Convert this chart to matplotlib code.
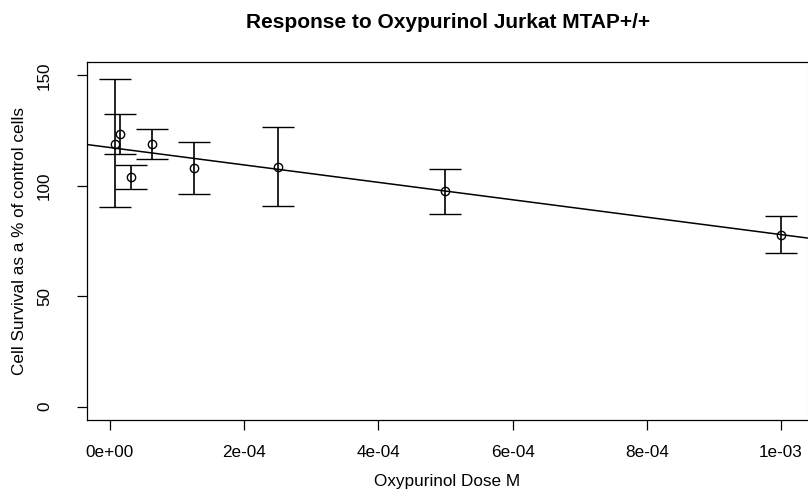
import numpy as np
import matplotlib
matplotlib.use("Agg")
from matplotlib import pyplot as plt

plt.rcParams["font.family"] = ["Liberation Sans", "DejaVu Sans"]

# dose (M), mean survival and error-bar ends
dose = [7.8125e-6, 1.5625e-5, 3.125e-5, 6.25e-5, 1.25e-4, 2.5e-4, 5e-4, 1e-3]
survival = [119.0, 123.4, 104.1, 118.8, 108.0, 108.6, 97.6, 77.9]
upper = [148.1, 132.5, 109.2, 125.8, 119.7, 126.4, 107.4, 86.5]
lower = [90.2, 114.3, 98.6, 112.1, 96.1, 91.0, 87.4, 69.6]

# fitted line (intercept, slope per M)
fit_intercept = 117.3
fit_slope = -39400.0

x_ticks = [0, 2e-4, 4e-4, 6e-4, 8e-4, 1e-3]
x_tick_labels = ["0e+00", "2e-04", "4e-04", "6e-04", "8e-04", "1e-03"]
y_ticks = [0, 50, 100, 150]

W, H = 808, 503
fig = plt.figure(figsize=(W / 100, H / 100), dpi=100)
ax = fig.add_axes([87 / W, 1 - 420 / H, 721 / W, (420 - 62) / H])

survival = np.array(survival)
yerr = [survival - np.array(lower), np.array(upper) - survival]
ax.errorbar(dose, survival, yerr=yerr, fmt="o", mfc="none", mec="black",
            ms=6, mew=1.0, ecolor="black", elinewidth=1.2, capsize=11.2,
            capthick=1.2)
ax.axline((0, fit_intercept), slope=fit_slope, color="black", lw=1.1)

ax.set_xlim(-3.42e-5, 1.0402e-3)
ax.set_ylim(-6, 156)
ax.set_xticks(x_ticks, x_tick_labels)
ax.set_yticks(y_ticks, [str(v) for v in y_ticks])
for lab in ax.get_yticklabels():
    lab.set_rotation(90)
    lab.set_va("center")
ax.tick_params(length=7.2, width=0.9, labelsize=12.3)
ax.tick_params(axis="x", pad=11)
ax.tick_params(axis="y", pad=18)
for s in ax.spines.values():
    s.set_linewidth(0.9)
ax.spines["right"].set_color("#e4e4e4")

ax.set_xlabel("Oxypurinol Dose M", fontsize=12.3, labelpad=10)
ax.set_ylabel("Cell Survival as a % of control cells", fontsize=12.3, labelpad=7)
fig.text(448 / W, 1 - 22 / H, "Response to Oxypurinol Jurkat MTAP+/+",
         ha="center", va="center", fontsize=15, fontweight="bold")

fig.savefig("out.png", dpi=100)
